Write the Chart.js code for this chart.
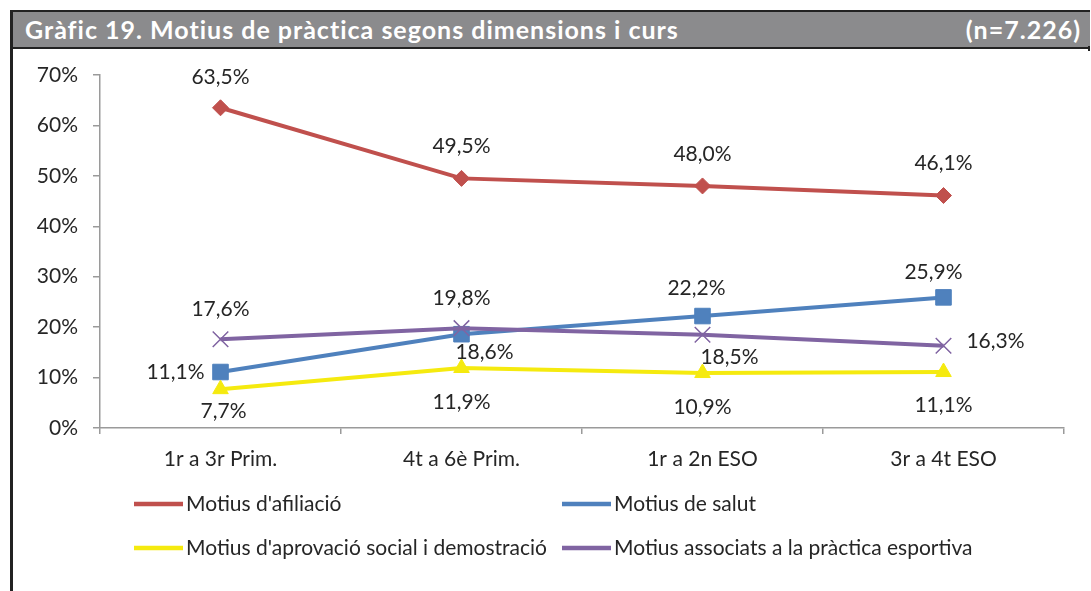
<!DOCTYPE html>
<html>
<head>
<meta charset="utf-8">
<script src="https://cdn.jsdelivr.net/npm/chart.js@4/dist/chart.umd.min.js"></script>
<style>
  html, body { margin: 0; padding: 0; background: #fff; }
  #wrap { position: relative; width: 1091px; height: 591px; overflow: hidden; }
  #titlebar { position: absolute; left: 10px; top: 10px; width: 1080px; height: 39px; background: #8b8b8d;
    border-top: 2.5px solid #222; border-bottom: 2.5px solid #222; box-sizing: border-box;
    color: #fff; font-family: Lato, "Open Sans", sans-serif; font-weight: bold; font-size: 25px; line-height: 34px; letter-spacing: 1px; }
  #titlebar .l { position: absolute; left: 15px; top: 0; }
  #titlebar .r { position: absolute; right: 9px; top: 0; }
  #leftborder { position: absolute; left: 10px; top: 10px; width: 2.5px; height: 581px; background: #222; }
  #rightnub { position: absolute; left: 1088px; top: 46px; width: 2px; height: 5px; background: #222; }
  #cv { position: absolute; left: 0; top: 0; width: 1091px; height: 591px; }
</style>
</head>
<body>
<div id="wrap">
  <div id="titlebar"><span class="l">Gràfic 19. Motius de pràctica segons dimensions i curs</span><span class="r">(n=7.226)</span></div>
  <div id="leftborder"></div>
  <div id="rightnub"></div>
  <div id="cv"><canvas id="chart"></canvas></div>
</div>
<script>
// ---- data ----
const categories = ["1r a 3r Prim.", "4t a 6è Prim.", "1r a 2n ESO", "3r a 4t ESO"];
const afiliacio = [63.5, 49.5, 48.0, 46.1];
const salut = [11.1, 18.6, 22.2, 25.9];
const aprovacio = [7.7, 11.9, 10.9, 11.1];
const associats = [17.6, 19.8, 18.5, 16.3];
const seriesNames = ["Motius d'afiliació", "Motius de salut", "Motius d'aprovació social i demostració", "Motius associats a la pràctica esportiva"];
const yTicks = [0, 10, 20, 30, 40, 50, 60, 70];

// ---- style ----
const FONT = "Lato, 'Open Sans', sans-serif";
const TXT = '#262626';
// label offsets (dx, dy) relative to point, per dataset per point
const labelOffsets = [
  [[0,-31],[0,-32],[0,-32],[0,-32]],
  [[-45,0],[23,18],[-6,-28],[-10,-25]],
  [[3,22],[0,34],[0,34],[0,33]],
  [[0,-30],[0,-30],[27,23],[52,-5]]
];

const colors = ['#c0504d', '#4f81bd', '#f5ea0f', '#8064a2'];
const styles = ['rectRot', 'rect', 'triangle', 'crossRot'];
const radii = [8, 11, 9, 11];
const orders = [3, 2, 1, 0];
const dataArr = [afiliacio, salut, aprovacio, associats];

const datasets = dataArr.map((d, i) => ({
  label: seriesNames[i],
  data: d,
  borderColor: colors[i],
  backgroundColor: colors[i],
  borderWidth: 4,
  tension: 0,
  pointStyle: styles[i],
  pointRadius: radii[i],
  pointHoverRadius: radii[i],
  pointBackgroundColor: colors[i],
  pointBorderColor: colors[i],
  pointBorderWidth: i === 3 ? 1.5 : 1,
  order: orders[i]
}));

const fmt = v => v.toFixed(1).replace('.', ',') + '%';

const labelsPlugin = {
  id: 'dataLabels',
  afterDatasetsDraw(chart) {
    const ctx = chart.ctx;
    ctx.save();
    ctx.font = '21px ' + FONT;
    ctx.fillStyle = TXT;
    ctx.textAlign = 'center';
    ctx.textBaseline = 'middle';
    chart.data.datasets.forEach((ds, i) => {
      const meta = chart.getDatasetMeta(i);
      meta.data.forEach((pt, j) => {
        const off = labelOffsets[i][j];
        ctx.fillText(fmt(ds.data[j]), pt.x + off[0], pt.y + off[1]);
      });
    });
    ctx.restore();
  }
};

const legendPos = [[134, 504], [562, 504], [134, 548], [562, 548]];
const legendPlugin = {
  id: 'customLegend',
  afterDraw(chart) {
    const ctx = chart.ctx;
    ctx.save();
    chart.data.datasets.forEach((ds, i) => {
      const [x, y] = legendPos[i];
      ctx.strokeStyle = ds.borderColor;
      ctx.lineWidth = 4.5;
      ctx.beginPath();
      ctx.moveTo(x, y);
      ctx.lineTo(x + 49, y);
      ctx.stroke();
      ctx.fillStyle = ds.backgroundColor;
      ctx.strokeStyle = ds.borderColor;
      ctx.lineWidth = ds.pointBorderWidth;
      Chart.helpers.drawPoint(ctx, { pointStyle: ds.pointStyle, rotation: 0, borderWidth: ds.pointBorderWidth }, x + 24.5, y, ds.pointRadius * 0.85);
      ctx.font = '21px ' + FONT;
      ctx.fillStyle = TXT;
      ctx.textAlign = 'left';
      ctx.textBaseline = 'middle';
      ctx.fillText(ds.label, x + 52, y);
    });
    ctx.restore();
  }
};

new Chart(document.getElementById('chart'), {
  type: 'line',
  data: { labels: categories, datasets },
  options: {
    responsive: true,
    maintainAspectRatio: false,
    animation: false,
    layout: { padding: { left: 12, right: 27, top: 75, bottom: 103 } },
    plugins: { legend: { display: false }, tooltip: { enabled: false } },
    scales: {
      x: {
        offset: true,
        grid: { offset: true, drawOnChartArea: false, tickLength: 6, color: '#9a9a9a', lineWidth: 1.5 },
        border: { color: '#9a9a9a', width: 1.5 },
        ticks: { font: { family: FONT, size: 21 }, color: TXT, padding: 13, maxRotation: 0 },
        afterFit(s) { s.height = 60; }
      },
      y: {
        min: 0, max: 70,
        afterBuildTicks(s) { s.ticks = yTicks.map(v => ({ value: v })); },
        grid: { drawOnChartArea: false, tickLength: 7, color: '#9a9a9a', lineWidth: 1.5 },
        border: { color: '#9a9a9a', width: 1.5 },
        ticks: { font: { family: FONT, size: 21 }, color: TXT, padding: 15, callback: v => v + '%' },
        afterFit(s) { s.width = 88; }
      }
    }
  },
  plugins: [labelsPlugin, legendPlugin]
});
</script>
</body>
</html>
